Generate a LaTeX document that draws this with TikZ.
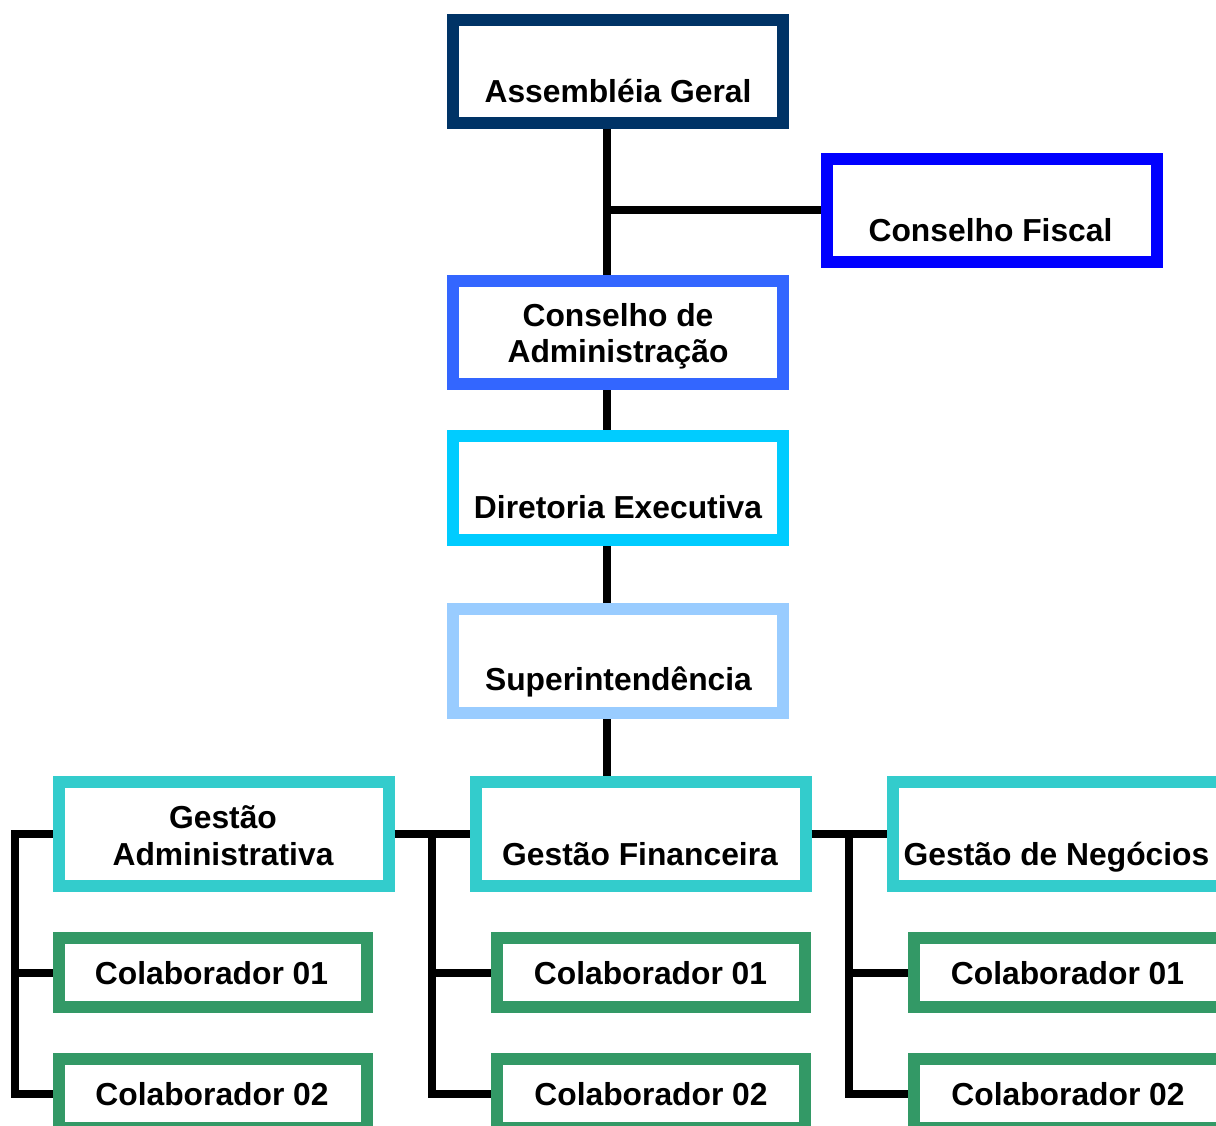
\documentclass[tikz,border=0pt]{standalone}
\usepackage{fontspec}
\setmainfont{Liberation Sans}
\usetikzlibrary{calc}
\definecolor{cAG}{HTML}{003366}
\definecolor{cCF}{HTML}{0000FF}
\definecolor{cCA}{HTML}{3366FF}
\definecolor{cDE}{HTML}{00CCFF}
\definecolor{cSU}{HTML}{99CCFF}
\definecolor{cGE}{HTML}{33CCCC}
\definecolor{cCO}{HTML}{339966}
\tikzset{
  box/.style={draw=#1, fill=white, line width=12pt, rectangle, inner sep=0pt},
  bigbox/.style={box=#1, minimum width=330pt, minimum height=103pt},
  smallbox/.style={box=#1, minimum width=308pt, minimum height=69pt},
  txt/.style={anchor=base, inner sep=0pt, font=\fontsize{31.8pt}{36pt}\selectfont\bfseries},
  conn/.style={draw=black, line width=8pt, line cap=butt, line join=miter}
}
\begin{document}
\begin{tikzpicture}[x=1pt,y=-1pt]
\useasboundingbox (0,0) rectangle (1216,1126);
\clip (0,0) rectangle (1216,1126);
% boxes
\node[bigbox=cAG] (ag) at (618,71.5) {};
\node[bigbox=cCF] (cf) at (991.5,210.5) {};
\node[bigbox=cCA] (ca) at (618,332.5) {};
\node[bigbox=cDE, minimum height=104pt] (de) at (618,488) {};
\node[bigbox=cSU, minimum height=104pt] (su) at (618,661) {};
\node[bigbox=cGE, minimum height=104pt] (ga) at (223.5,834) {};
\node[bigbox=cGE, minimum height=104pt] (gf) at (640.5,834) {};
\node[bigbox=cGE, minimum height=104pt] (gn) at (1057.5,834) {};
\node[smallbox=cCO] (c1l) at (212.5,972.5) {};
\node[smallbox=cCO] (c2l) at (212.5,1093.5) {};
\node[smallbox=cCO] (c1m) at (651,972.5) {};
\node[smallbox=cCO] (c2m) at (651,1093.5) {};
\node[smallbox=cCO] (c1r) at (1068,972.5) {};
\node[smallbox=cCO] (c2r) at (1068,1093.5) {};
% connectors
\coordinate (vx) at ([xshift=-11pt]ag.south);
\draw[conn] (vx) -- (vx |- ca.north);
\draw[conn] (vx |- cf.west) -- (cf.west);
\draw[conn] (vx |- ca.south) -- (vx |- de.north);
\draw[conn] (vx |- de.south) -- (vx |- su.north);
\draw[conn] (vx |- su.south) -- (vx |- gf.north);
\draw[conn] (ga.east) -- (gf.west);
\draw[conn] (gf.east) -- (gn.west);
\coordinate (lb) at ([xshift=-38pt]ga.west);
\coordinate (mb) at ($(ga.east)!0.5!(gf.west)$);
\coordinate (rb) at ($(gf.east)!0.5!(gn.west)$);
\draw[conn] (ga.west) -- (lb) |- (c2l.west);
\draw[conn] (lb |- c1l.west) -- (c1l.west);
\draw[conn] (mb) |- (c2m.west);
\draw[conn] (mb |- c1m.west) -- (c1m.west);
\draw[conn] (rb) |- (c2r.west);
\draw[conn] (rb |- c1r.west) -- (c1r.west);
% texts
\node[txt] (agt) at (618,103) {Assembléia Geral};
\node[txt] (cft) at (990.5,242) {Conselho Fiscal};
\node[txt] (cat1) at (618,326) {Conselho de};
\node[txt] (cat2) at (618,362) {Administração};
\node[txt] (det) at (618,518) {Diretoria Executiva};
\node[txt] (sut) at (618.5,690) {Superintendência};
\node[txt] (gat1) at (223,828) {Gestão};
\node[txt] (gat2) at (223,865) {Administrativa};
\node[txt] (gft) at (640,865) {Gestão Financeira};
\node[txt] (gnt) at (1056.5,865) {Gestão de Negócios};
\node[txt] (c1lt) at (211.5,984) {Colaborador 01};
\node[txt] (c2lt) at (212,1105) {Colaborador 02};
\node[txt] (c1mt) at (650.5,984) {Colaborador 01};
\node[txt] (c2mt) at (651,1105) {Colaborador 02};
\node[txt] (c1rt) at (1067.5,984) {Colaborador 01};
\node[txt] (c2rt) at (1068,1105) {Colaborador 02};
\end{tikzpicture}
\end{document}
